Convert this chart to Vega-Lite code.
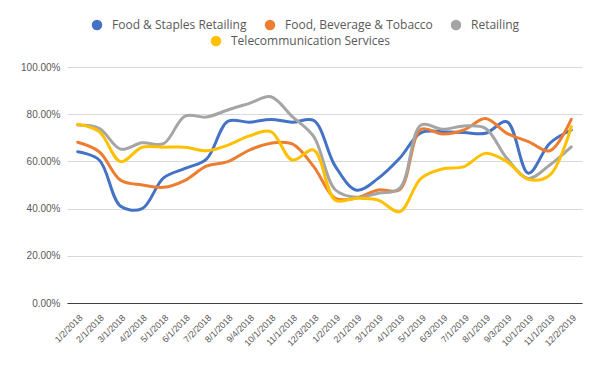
{
  "$schema": "https://vega.github.io/schema/vega-lite/v6.json",
  "width": 515,
  "height": 236,
  "autosize": {"type": "none"},
  "padding": {"left": 67, "top": 67, "right": 18, "bottom": 68},
  "background": "white",
  "data": {
    "values": [
      {"date": "1/2/2018", "Food & Staples Retailing": 0.641, "Food, Beverage & Tobacco": 0.681, "Retailing": 0.754, "Telecommunication Services": 0.757},
      {"date": "2/1/2018", "Food & Staples Retailing": 0.606, "Food, Beverage & Tobacco": 0.641, "Retailing": 0.74, "Telecommunication Services": 0.726},
      {"date": "3/1/2018", "Food & Staples Retailing": 0.41, "Food, Beverage & Tobacco": 0.52, "Retailing": 0.652, "Telecommunication Services": 0.599},
      {"date": "4/2/2018", "Food & Staples Retailing": 0.40, "Food, Beverage & Tobacco": 0.50, "Retailing": 0.679, "Telecommunication Services": 0.66},
      {"date": "5/1/2018", "Food & Staples Retailing": 0.53, "Food, Beverage & Tobacco": 0.49, "Retailing": 0.675, "Telecommunication Services": 0.66},
      {"date": "6/1/2018", "Food & Staples Retailing": 0.57, "Food, Beverage & Tobacco": 0.52, "Retailing": 0.792, "Telecommunication Services": 0.66},
      {"date": "7/2/2018", "Food & Staples Retailing": 0.61, "Food, Beverage & Tobacco": 0.58, "Retailing": 0.788, "Telecommunication Services": 0.645},
      {"date": "8/1/2018", "Food & Staples Retailing": 0.77, "Food, Beverage & Tobacco": 0.599, "Retailing": 0.818, "Telecommunication Services": 0.669},
      {"date": "9/4/2018", "Food & Staples Retailing": 0.766, "Food, Beverage & Tobacco": 0.648, "Retailing": 0.846, "Telecommunication Services": 0.708},
      {"date": "10/1/2018", "Food & Staples Retailing": 0.778, "Food, Beverage & Tobacco": 0.677, "Retailing": 0.874, "Telecommunication Services": 0.726},
      {"date": "11/1/2018", "Food & Staples Retailing": 0.766, "Food, Beverage & Tobacco": 0.674, "Retailing": 0.79, "Telecommunication Services": 0.606},
      {"date": "12/3/2018", "Food & Staples Retailing": 0.773, "Food, Beverage & Tobacco": 0.578, "Retailing": 0.705, "Telecommunication Services": 0.648},
      {"date": "1/2/2019", "Food & Staples Retailing": 0.58, "Food, Beverage & Tobacco": 0.444, "Retailing": 0.48, "Telecommunication Services": 0.436},
      {"date": "2/1/2019", "Food & Staples Retailing": 0.478, "Food, Beverage & Tobacco": 0.445, "Retailing": 0.448, "Telecommunication Services": 0.444},
      {"date": "3/1/2019", "Food & Staples Retailing": 0.528, "Food, Beverage & Tobacco": 0.479, "Retailing": 0.465, "Telecommunication Services": 0.436},
      {"date": "4/1/2019", "Food & Staples Retailing": 0.613, "Food, Beverage & Tobacco": 0.48, "Retailing": 0.486, "Telecommunication Services": 0.387},
      {"date": "5/1/2019", "Food & Staples Retailing": 0.722, "Food, Beverage & Tobacco": 0.736, "Retailing": 0.754, "Telecommunication Services": 0.528},
      {"date": "6/3/2019", "Food & Staples Retailing": 0.726, "Food, Beverage & Tobacco": 0.716, "Retailing": 0.736, "Telecommunication Services": 0.568},
      {"date": "7/1/2019", "Food & Staples Retailing": 0.722, "Food, Beverage & Tobacco": 0.733, "Retailing": 0.75, "Telecommunication Services": 0.578},
      {"date": "8/1/2019", "Food & Staples Retailing": 0.719, "Food, Beverage & Tobacco": 0.782, "Retailing": 0.74, "Telecommunication Services": 0.634},
      {"date": "9/3/2019", "Food & Staples Retailing": 0.768, "Food, Beverage & Tobacco": 0.719, "Retailing": 0.613, "Telecommunication Services": 0.599},
      {"date": "10/1/2019", "Food & Staples Retailing": 0.55, "Food, Beverage & Tobacco": 0.684, "Retailing": 0.528, "Telecommunication Services": 0.524},
      {"date": "11/1/2019", "Food & Staples Retailing": 0.677, "Food, Beverage & Tobacco": 0.645, "Retailing": 0.585, "Telecommunication Services": 0.542},
      {"date": "12/2/2019", "Food & Staples Retailing": 0.733, "Food, Beverage & Tobacco": 0.778, "Retailing": 0.662, "Telecommunication Services": 0.747}
    ]
  },
  "transform": [
    {"fold": ["Food & Staples Retailing", "Food, Beverage & Tobacco", "Retailing", "Telecommunication Services"], "as": ["series", "value"]}
  ],
  "encoding": {
    "x": {
      "field": "date", "type": "nominal", "sort": null, "title": null,
      "scale": {"type": "point", "padding": 0.5},
      "axis": {"labelAngle": -45, "labelFontSize": 9, "labelColor": "#595959", "ticks": false, "domainColor": "#404040", "domainWidth": 1, "grid": false, "labelPadding": 10, "labelFont": "Liberation Sans"}
    },
    "y": {
      "field": "value", "type": "quantitative", "title": null,
      "scale": {"domain": [0, 1], "nice": false},
      "axis": {"values": [0, 0.2, 0.4, 0.6, 0.8, 1], "format": ".2%", "labelFontSize": 10, "labelColor": "#595959", "ticks": false, "domain": false, "gridColor": "#D9D9D9", "gridWidth": 1, "labelPadding": 7, "labelFont": "Liberation Sans"}
    }
  },
  "layer": [
    {
      "transform": [{"filter": {"field": "series", "oneOf": ["Food & Staples Retailing", "Food, Beverage & Tobacco", "Retailing"]}}],
      "mark": {"type": "line", "interpolate": "catmull-rom", "strokeWidth": 3, "strokeCap": "round", "strokeJoin": "round"},
      "encoding": {
        "color": {
          "field": "series", "type": "nominal",
          "scale": {"domain": ["Food & Staples Retailing", "Food, Beverage & Tobacco", "Retailing"], "range": ["#4472C4", "#ED7D31", "#A5A5A5"]},
          "legend": {"orient": "none", "legendX": 24, "legendY": -48, "padding": 0, "direction": "horizontal", "title": null, "symbolType": "circle", "symbolSize": 110, "labelFontSize": 12, "labelColor": "#595959", "labelFont": "Open Sans", "columnPadding": 17, "labelOffset": 9,
            "encode": {"symbols": {"update": {"fill": {"scale": "color", "field": "value"}, "strokeWidth": {"value": 0}}}}}
        }
      }
    },
    {
      "transform": [{"filter": {"field": "series", "equal": "Telecommunication Services"}}],
      "mark": {"type": "line", "interpolate": "catmull-rom", "strokeWidth": 3, "strokeCap": "round", "strokeJoin": "round"},
      "encoding": {
        "stroke": {
          "field": "series", "type": "nominal",
          "scale": {"domain": ["Telecommunication Services"], "range": ["#FFC000"]},
          "legend": {"orient": "none", "legendX": 143, "legendY": -32, "padding": 0, "direction": "horizontal", "title": null, "symbolType": "circle", "symbolSize": 110, "labelFontSize": 12, "labelColor": "#595959", "labelFont": "Open Sans", "labelOffset": 9,
            "encode": {"symbols": {"update": {"fill": {"scale": "stroke", "field": "value"}, "strokeWidth": {"value": 0}}}}}
        }
      }
    }
  ],
  "config": {"view": {"stroke": null}}
}
